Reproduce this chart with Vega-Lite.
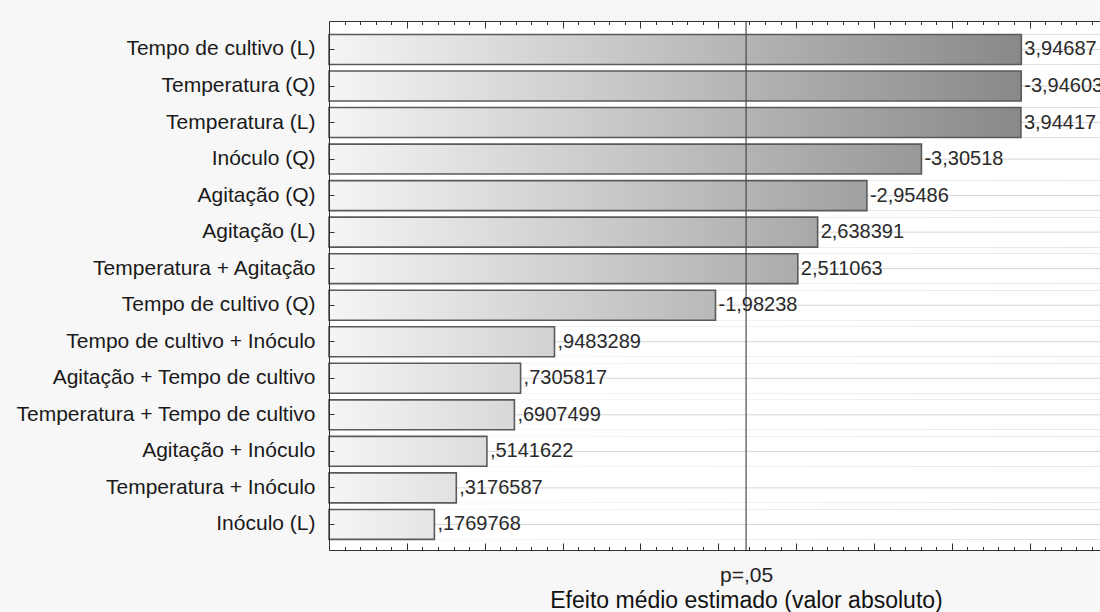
{
  "$schema": "https://vega.github.io/schema/vega-lite/v6.json",
  "width": 771,
  "height": 529,
  "autosize": {"type": "none"},
  "padding": {"left": 329, "top": 21, "right": 0, "bottom": 62},
  "background": "#f7f7f7",
  "config": {
    "view": {"fill": "#ffffff", "stroke": null},
    "font": "Liberation Sans"
  },
  "data": {
    "values": [
      {"fator": "Tempo de cultivo (L)", "efeito": 3.94687, "rotulo": "3,94687"},
      {"fator": "Temperatura (Q)", "efeito": -3.94603, "rotulo": "-3,94603"},
      {"fator": "Temperatura (L)", "efeito": 3.94417, "rotulo": "3,94417"},
      {"fator": "Inóculo (Q)", "efeito": -3.30518, "rotulo": "-3,30518"},
      {"fator": "Agitação (Q)", "efeito": -2.95486, "rotulo": "-2,95486"},
      {"fator": "Agitação (L)", "efeito": 2.638391, "rotulo": "2,638391"},
      {"fator": "Temperatura + Agitação", "efeito": 2.511063, "rotulo": "2,511063"},
      {"fator": "Tempo de cultivo (Q)", "efeito": -1.98238, "rotulo": "-1,98238"},
      {"fator": "Tempo de cultivo + Inóculo", "efeito": 0.9483289, "rotulo": ",9483289"},
      {"fator": "Agitação + Tempo de cultivo", "efeito": 0.7305817, "rotulo": ",7305817"},
      {"fator": "Temperatura + Tempo de cultivo", "efeito": 0.6907499, "rotulo": ",6907499"},
      {"fator": "Agitação + Inóculo", "efeito": 0.5141622, "rotulo": ",5141622"},
      {"fator": "Temperatura + Inóculo", "efeito": 0.3176587, "rotulo": ",3176587"},
      {"fator": "Inóculo (L)", "efeito": 0.1769768, "rotulo": ",1769768"}
    ]
  },
  "transform": [{"calculate": "abs(datum.efeito)", "as": "efeito_abs"}],
  "resolve": {"axis": {"x": "independent"}},
  "layer": [
    {
      "description": "plot-wide horizontal gradient, one full-width strip per factor",
      "mark": {
        "type": "bar",
        "color": {
          "gradient": "linear", "x1": 0, "y1": 0, "x2": 1, "y2": 0,
          "stops": [{"offset": 0, "color": "#f5f5f5"}, {"offset": 1, "color": "#7c7c7c"}]
        }
      },
      "encoding": {
        "y": {"field": "fator", "type": "nominal", "sort": null,
          "scale": {"paddingInner": 0.18, "paddingOuter": 0.33, "align": 0.56},
          "axis": {"title": null, "domainColor": "#333333", "tickColor": "#333333", "tickSize": -5, "zindex": 1,
            "labelFontSize": 21, "labelColor": "#1a1a1a", "labelPadding": 19, "labelLimit": 400}},
        "x": {"datum": -0.5, "type": "quantitative",
          "scale": {"domain": [-0.5, 4.452], "nice": false, "zero": false},
          "axis": {
            "orient": "bottom", "grid": false, "zindex": 1,
            "values": [-0.4, -0.3, -0.2, -0.1, 0, 0.1, 0.2, 0.3, 0.4, 0.5, 0.6, 0.7, 0.8, 0.9, 1, 1.1, 1.2, 1.3, 1.4, 1.5, 1.6, 1.7, 1.8, 1.9, 2, 2.1, 2.1788, 2.2, 2.3, 2.4, 2.5, 2.6, 2.7, 2.8, 2.9, 3, 3.1, 3.2, 3.3, 3.4, 3.5, 3.6, 3.7, 3.8, 3.9, 4, 4.1, 4.2, 4.3, 4.4],
            "domainColor": "#333333", "tickColor": "#333333",
            "tickSize": {"condition": {"test": "abs(datum.value * 2 - round(datum.value * 2)) < 0.001", "value": -7}, "value": -3.5},
            "tickOpacity": {"condition": {"test": "abs(datum.value - 2.1788) < 0.001", "value": 0}, "value": 1},
            "labelExpr": "abs(datum.value - 2.1788) < 0.001 ? 'p=,05' : ''",
            "labelFontSize": 21, "labelColor": "#222222", "labelPadding": 18,
            "labelOverlap": false, "labelBound": false, "labelFlush": false,
            "title": "Efeito médio estimado (valor absoluto)",
            "titleFontSize": 23, "titleFontWeight": "normal", "titleColor": "#111111",
            "titleX": 417, "titleY": 57, "titleBaseline": "alphabetic"
          }},
        "x2": {"datum": 4.452}
      }
    },
    {
      "description": "white cover to the right of each bar",
      "mark": {"type": "bar", "color": "#ffffff"},
      "encoding": {
        "y": {"field": "fator", "type": "nominal", "sort": null,
          "scale": {"paddingInner": 0.18, "paddingOuter": 0.33, "align": 0.56},
          "axis": {"title": null, "domainColor": "#333333", "tickColor": "#333333", "tickSize": -5, "zindex": 1,
            "labelFontSize": 21, "labelColor": "#1a1a1a", "labelPadding": 19, "labelLimit": 400}},
        "x": {"field": "efeito_abs", "type": "quantitative",
          "axis": {
            "orient": "top", "grid": false, "labels": false, "title": null, "zindex": 1,
            "values": [-0.4, -0.3, -0.2, -0.1, 0, 0.1, 0.2, 0.3, 0.4, 0.5, 0.6, 0.7, 0.8, 0.9, 1, 1.1, 1.2, 1.3, 1.4, 1.5, 1.6, 1.7, 1.8, 1.9, 2, 2.1, 2.2, 2.3, 2.4, 2.5, 2.6, 2.7, 2.8, 2.9, 3, 3.1, 3.2, 3.3, 3.4, 3.5, 3.6, 3.7, 3.8, 3.9, 4, 4.1, 4.2, 4.3, 4.4],
            "domainColor": "#333333", "tickColor": "#333333",
            "tickSize": {"condition": {"test": "abs(datum.value * 2 - round(datum.value * 2)) < 0.001", "value": -7}, "value": -3.5}
          }},
        "x2": {"datum": 4.452}
      }
    },
    {
      "description": "grid lines at each factor, visible right of the bars",
      "mark": {"type": "rule", "color": "#d6d6d6", "strokeWidth": 1},
      "encoding": {
        "y": {"field": "fator", "type": "nominal", "sort": null,
          "scale": {"paddingInner": 0.18, "paddingOuter": 0.33, "align": 0.56},
          "axis": {"title": null, "domainColor": "#333333", "tickColor": "#333333", "tickSize": -5, "zindex": 1,
            "labelFontSize": 21, "labelColor": "#1a1a1a", "labelPadding": 19, "labelLimit": 400}},
        "x": {"field": "efeito_abs", "type": "quantitative", "axis": null},
        "x2": {"datum": 4.452}
      }
    },
    {
      "description": "bar outlines",
      "mark": {"type": "bar", "fill": "transparent", "stroke": "#5a5a5a", "strokeWidth": 1.6},
      "encoding": {
        "y": {"field": "fator", "type": "nominal", "sort": null,
          "scale": {"paddingInner": 0.18, "paddingOuter": 0.33, "align": 0.56},
          "axis": {"title": null, "domainColor": "#333333", "tickColor": "#333333", "tickSize": -5, "zindex": 1,
            "labelFontSize": 21, "labelColor": "#1a1a1a", "labelPadding": 19, "labelLimit": 400}},
        "x": {"field": "efeito_abs", "type": "quantitative", "axis": null},
        "x2": {"datum": -0.5}
      }
    },
    {
      "description": "significance limit p = 0.05",
      "data": {"values": [{"limite": 2.1788}]},
      "mark": {"type": "rule", "color": "#4a4a4a", "strokeWidth": 1.2},
      "encoding": {
        "x": {"field": "limite", "type": "quantitative", "axis": null}
      }
    },
    {
      "description": "effect value labels",
      "mark": {"type": "text", "align": "left", "baseline": "middle", "dx": 3, "fontSize": 20, "color": "#2a2a2a"},
      "encoding": {
        "y": {"field": "fator", "type": "nominal", "sort": null,
          "scale": {"paddingInner": 0.18, "paddingOuter": 0.33, "align": 0.56},
          "axis": {"title": null, "domainColor": "#333333", "tickColor": "#333333", "tickSize": -5, "zindex": 1,
            "labelFontSize": 21, "labelColor": "#1a1a1a", "labelPadding": 19, "labelLimit": 400}},
        "x": {"field": "efeito_abs", "type": "quantitative", "axis": null},
        "text": {"field": "rotulo"}
      }
    }
  ]
}
